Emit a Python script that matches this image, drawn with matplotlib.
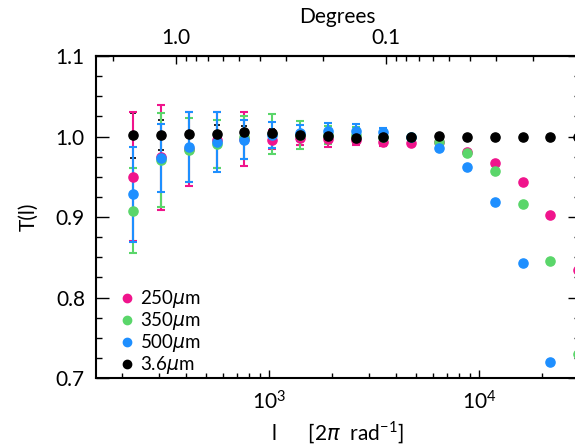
import numpy as np
import matplotlib.pyplot as plt
from matplotlib.lines import Line2D
from matplotlib.ticker import FixedLocator, FuncFormatter, LogLocator, MultipleLocator, NullFormatter

plt.rcParams['font.family'] = ['Lato', 'DejaVu Sans']
plt.rcParams['font.size'] = 15
plt.rcParams['mathtext.fontset'] = 'custom'
plt.rcParams['mathtext.rm'] = 'Lato'
plt.rcParams['mathtext.it'] = 'DejaVu Sans:italic'

# multipole l, one value per bin
ell = [225, 305, 414, 562, 762, 1033, 1403, 1902, 2582, 3501, 4751,
       6446, 8746, 11858, 16094, 21823, 29620]

# transfer function per band, with 1-sigma errors
t_250 = [0.950, 0.974, 0.985, 0.996, 0.997, 0.996, 0.998, 0.9965, 0.996,
         0.9935, 0.9915, 0.993, 0.981, 0.967, 0.943, 0.903, 0.834]
e_250 = [0.080, 0.065, 0.046, 0.035, 0.034, 0.012, 0.008, 0.010, 0.007,
         0.005, 0, 0, 0, 0, 0, 0, 0]

t_350 = [0.908, 0.971, 0.983, 0.991, 0.999, 1.003, 1.002, 1.002, 1.002,
         1.000, 1.000, 0.9935, 0.980, 0.957, 0.9165, 0.845, 0.7295]
e_350 = [0.053, 0.058, 0.040, 0.030, 0.027, 0.025, 0.017, 0.011, 0.010,
         0.006, 0, 0, 0, 0, 0, 0, 0]

t_500 = [0.928, 0.973, 0.987, 0.993, 0.996, 1.0015, 1.004, 1.007, 1.007,
         1.006, 1.000, 0.986, 0.9625, 0.9186, 0.843, 0.720, np.nan]
e_500 = [0.059, 0.042, 0.043, 0.037, 0.024, 0.016, 0.010, 0.010, 0.008,
         0.005, 0, 0, 0, 0, 0, 0, 0]

t_36 = [1.0015, 1.002, 1.003, 1.003, 1.005, 1.004, 1.002, 1.001, 0.998,
        1.000, 1.000, 1.0006, 1.000, 0.999, 0.999, 0.999, 1.000]
e_36 = [0.028, 0.019, 0.020, 0.011, 0.008, 0.005, 0, 0, 0,
        0, 0, 0, 0, 0, 0, 0, 0]

bands = [
    ("250$\\mu$m", t_250, e_250, "#f0148c"),
    ("350$\\mu$m", t_350, e_350, "#5ad66a"),
    ("500$\\mu$m", t_500, e_500, "#1e8fff"),
]

fig = plt.figure(figsize=(5.75, 4.46), dpi=100)
ax = fig.add_axes([96 / 575, 1 - 378 / 446, (579.5 - 96) / 575, (378 - 56) / 446])

# black error bars go underneath, black dots on top
ax.errorbar(ell, t_36, yerr=e_36, fmt="none", ecolor="k", elinewidth=1.2,
            capsize=2.5, capthick=1.2, zorder=1)
for label, t, e, c in bands:
    ax.errorbar(ell, t, yerr=e, fmt="o", color=c, ms=6.6, elinewidth=1.5,
                capsize=3, capthick=1.5, zorder=2)
ax.plot(ell, t_36, "o", color="k", ms=6.6, zorder=5)

ax.set_xscale("log")
ax.set_xlim(150, 30000)
ax.set_ylim(0.7, 1.1)
ax.yaxis.set_major_locator(MultipleLocator(0.1))
ax.yaxis.set_minor_locator(MultipleLocator(0.025))
ax.yaxis.set_major_formatter(FuncFormatter(lambda v, p: f"{v:.1f}"))

ax.tick_params(which="both", direction="in", right=True, top=False, width=1)
ax.tick_params(axis="y", which="major", length=9, pad=8)
ax.tick_params(axis="y", which="minor", length=4.5)
ax.tick_params(axis="x", which="major", length=6, pad=9)
ax.tick_params(axis="x", which="minor", length=3.5)
for s in ax.spines.values():
    s.set_linewidth(1.5)

ax.set_xlabel("l      [2$\\pi$  rad$^{-1}$]", labelpad=4)
ax.set_ylabel("T(l)", labelpad=12)

# top axis in degrees
top = ax.secondary_xaxis("top", functions=(lambda x: 360.0 / x, lambda d: 360.0 / d))
top.xaxis.set_major_locator(FixedLocator([1.0, 0.1, 0.01]))
top.xaxis.set_major_formatter(FuncFormatter(lambda v, p: f"{v:.1f}" if v >= 0.1 else ""))
top.xaxis.set_minor_locator(LogLocator(base=10, subs=np.arange(2, 10), numticks=20))
top.xaxis.set_minor_formatter(NullFormatter())
top.tick_params(which="both", direction="in", width=1)
top.tick_params(which="major", length=6, pad=6)
top.tick_params(which="minor", length=3.5)
top.spines["top"].set_linewidth(1.5)
top.set_xlabel("Degrees", labelpad=3)

handles = [Line2D([], [], ls="none", marker="o", ms=6, color=c) for _, _, _, c in bands]
handles.append(Line2D([], [], ls="none", marker="o", ms=6, color="k"))
labels = [b[0] for b in bands] + ["3.6$\\mu$m"]
ax.legend(handles, labels, loc="lower left", bbox_to_anchor=(0.026, -0.035), frameon=False,
          fontsize=13.5, handlelength=0.6, handletextpad=0.4, labelspacing=0.0, borderpad=0.2)

fig.savefig("out.png", dpi=100)
